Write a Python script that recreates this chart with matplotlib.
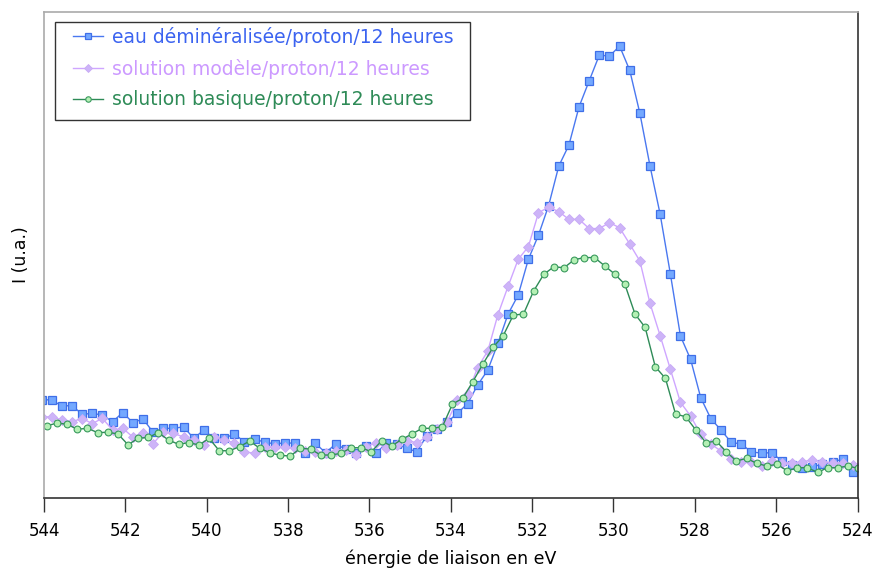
import numpy as np
import matplotlib
matplotlib.use("Agg")
import matplotlib.pyplot as plt
from matplotlib.patches import Rectangle

# energy grids (eV); green series is sampled slightly offset
energy_a = 543.81 - 0.2493 * np.arange(-1, 81)
energy_b = 543.93 - 0.2493 * np.arange(-1, 81)

eau = [98.5, 98, 92, 92.5, 83.7, 84.7, 83, 76.3, 85.5, 75.3, 79.2,
       65.7, 69.7, 69.7, 71.2, 59.7, 68, 59.7, 59.7, 64, 56.3,
       58.7, 56, 54, 55.3, 54.7, 45.3, 54.7, 45.3, 54, 48.7,
       45.3, 52, 45.3, 54.7, 54, 49.7, 46.3, 62.5, 69, 76,
       84.7, 94.3, 113, 128, 154.7, 184, 203, 238.7, 263, 292.5,
       332, 353, 391.3, 417.3, 443, 442, 452, 427.7, 384.7, 332,
       283.7, 224.5, 162, 138.7, 100.3, 79.3, 68, 55.7, 54, 46,
       45, 45.3, 37, 33, 30, 31.3, 33.7, 36.3, 38.7, 26.3, 30]

modele = [81, 81.3, 78, 76.5, 79.5, 74.5, 79.7, 68, 69.7, 61, 65.5,
          54.5, 66, 64.7, 61, 58, 53, 60.7, 58, 55.3, 46.3,
          44.7, 51.3, 51.3, 51.3, 49.7, 47, 46.3, 45.3, 47.5, 48.5,
          43, 51.5, 55.3, 50, 53, 57.5, 55.3, 61.3, 69.3, 76.3,
          98, 104, 130.5, 147, 183.5, 211.7, 238.8, 251.3, 285.3, 291,
          286.5, 278.7, 278.7, 269.5, 269.5, 275.5, 270.3, 254, 237, 194.7,
          162.3, 129, 95.7, 82, 63.7, 54, 47, 39, 36.3, 36,
          32, 36.7, 34.7, 35.3, 36.3, 38, 36.3, 35.3, 35.3, 33, 35]

basique = [72, 72.2, 75, 73.8, 68.8, 69.7, 65.5, 65.7, 64.2, 53.3, 59.7,
           60.7, 65.3, 58, 53.7, 55.5, 53, 59.7, 47.3, 47.3, 51.3,
           57, 49.7, 45.3, 42.7, 42, 49.7, 49, 43, 43, 44.7,
           50.3, 50.3, 46.3, 57, 52, 58.7, 64, 69.7, 69.7, 71.3,
           94, 99.7, 116.3, 134, 150.7, 162.3, 183, 184, 207, 223.7,
           231.3, 230.3, 238.3, 240.5, 240.5, 232.3, 224, 213.7, 184, 170.7,
           131.3, 119.7, 84, 81.3, 68, 55.3, 57, 46.3, 37, 39.7,
           34.7, 32, 33.7, 27.3, 30.3, 30.3, 25.7, 30.3, 30.3, 32, 29.7]

labels = ["eau déminéralisée/proton/12 heures",
          "solution modèle/proton/12 heures",
          "solution basique/proton/12 heures"]

fig = plt.figure(figsize=(8.77, 5.71), dpi=100)
ax = fig.add_axes([0.0502, 0.1278, 0.9276, 0.851])

ax.plot(energy_a, eau, color="#4a78f0", lw=1.0, marker="s", ms=5.5,
        mfc="#73a8ff", mec="#3f6fe8", mew=0.9, label=labels[0])
ax.plot(energy_a, modele, color="#cfa6ff", lw=1.0, marker="D", ms=5.0,
        mfc="#cdb4f8", mec="#c8aaf5", mew=0.6, label=labels[1])
ax.plot(energy_b, basique, color="#2e8b57", lw=1.0, marker="o", ms=4.9,
        mfc="#b4f0b4", mec="#3a9a5e", mew=0.8, label=labels[2])

ax.set_xlim(544, 524)
ax.set_ylim(0, 486)
ax.set_xticks(np.arange(544, 523, -2))
ax.set_yticks([])
ax.tick_params(axis="x", direction="out", length=10, width=1, pad=7,
               labelsize=12, color="#333333")

ax.spines["left"].set_color("#aaaaaa")
ax.spines["top"].set_color("#aaaaaa")
ax.spines["right"].set_color("#333333")
ax.spines["bottom"].set_color("#333333")
for s in ax.spines.values():
    s.set_linewidth(1.2)

ax.set_xlabel("énergie de liaison en eV", fontsize=12.5, labelpad=7)
ax.set_ylabel("I (u.a.)", fontsize=12.5, labelpad=10)

# legend without its own frame, box drawn separately
box = Rectangle((55 / 877, 1 - 120 / 571), 415 / 877, 98 / 571,
                transform=fig.transFigure, facecolor="white",
                edgecolor="#333333", linewidth=1.0, clip_on=False, zorder=4)
ax.add_patch(box)

leg = ax.legend(loc="upper left", bbox_to_anchor=(73 / 877, 1 - 27 / 571),
                bbox_transform=fig.transFigure, borderaxespad=0, borderpad=0,
                fontsize=13.5, frameon=False, handlelength=1.6,
                handletextpad=0.5, labelspacing=0.62, markerscale=0.8)
leg.set_zorder(5)
for txt, c in zip(leg.get_texts(), ["#3b63f0", "#cc99ff", "#2e8b57"]):
    txt.set_color(c)

fig.savefig("out.png", dpi=100)
